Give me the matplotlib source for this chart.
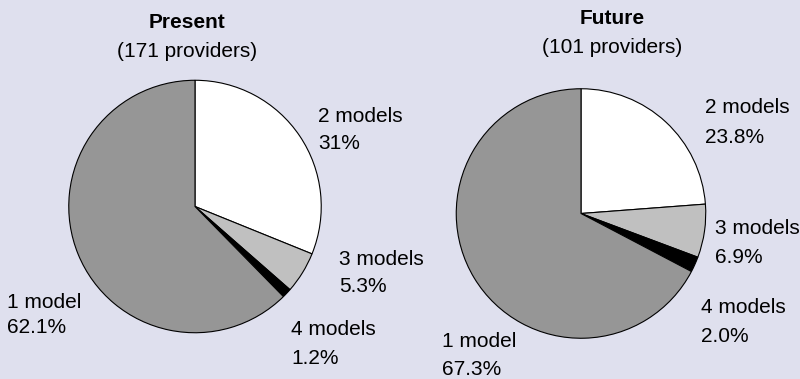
import matplotlib
matplotlib.use("Agg")
import matplotlib.pyplot as plt

# number of models offered per provider
categories = ["2 models", "3 models", "4 models", "1 model"]
present_values = [31.0, 5.3, 1.2, 62.1]
future_values = [23.8, 6.9, 2.0, 67.3]
present_pct_text = ["31%", "5.3%", "1.2%", "62.1%"]
future_pct_text = ["23.8%", "6.9%", "2.0%", "67.3%"]
titles = ["Present", "Future"]
provider_counts = [171, 101]

colors = ["#ffffff", "#c0c0c0", "#000000", "#969696"]
bg = "#dfe0ee"

plt.rcParams["font.family"] = ["Liberation Sans", "DejaVu Sans"]

W, H = 800, 379
fig = plt.figure(figsize=(W / 100, H / 100), dpi=100, facecolor=bg)


def px(x, y):
    # pixel coords (from top-left) -> figure fraction
    return x / W, 1 - y / H


def draw_pie(cx, cy, r, values):
    ax = fig.add_axes([(cx - r) / W, (H - cy - r) / H, 2 * r / W, 2 * r / H])
    ax.pie(values, colors=colors, startangle=90, counterclock=False,
           wedgeprops=dict(edgecolor="black", linewidth=0.8))
    ax.set_xlim(-1.01, 1.01)
    ax.set_ylim(-1.01, 1.01)
    ax.set_aspect("equal")
    ax.axis("off")
    return ax


draw_pie(195, 206.5, 127.5, present_values)
draw_pie(581, 213.5, 126, future_values)

# label anchor points: (x, baseline of name line, baseline of percent line)
present_label_pos = [(318, 122, 149), (339, 265, 292), (291, 335, 364), (7, 308, 333)]
future_label_pos = [(705, 113, 143), (715, 234, 263), (701, 313, 342), (442, 347, 375)]

fs = 15
for pcts, positions in [(present_pct_text, present_label_pos),
                        (future_pct_text, future_label_pos)]:
    for name, pct, (x, y1, y2) in zip(categories, pcts, positions):
        fig.text(*px(x, y1), name, fontsize=fs, va="baseline", ha="left")
        fig.text(*px(x, y2), pct, fontsize=fs, va="baseline", ha="left")

# titles
title_pos = [(187.5, 28, 57), (612.5, 24, 53)]
for title, n, (x, y1, y2) in zip(titles, provider_counts, title_pos):
    fig.text(*px(x, y1), title, fontsize=fs, fontweight="bold", ha="center", va="baseline")
    fig.text(*px(x, y2), f"({n} providers)", fontsize=fs, ha="center", va="baseline")

fig.savefig("out.png", dpi=100, facecolor=bg)
